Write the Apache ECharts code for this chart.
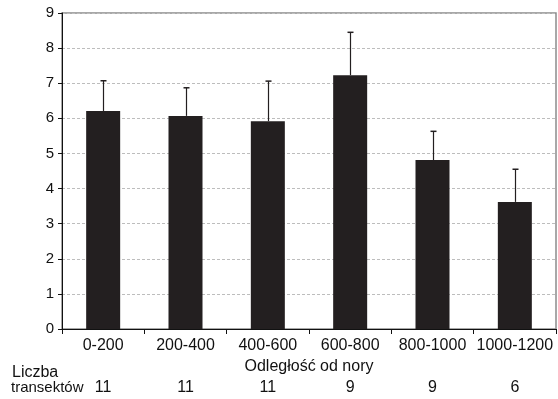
<!DOCTYPE html>
<html><head><meta charset="utf-8">
<script src="https://cdn.jsdelivr.net/npm/echarts@6/dist/echarts.min.js"></script>
<style>html,body{margin:0;padding:0;background:#fff}#c{width:558px;height:399px}</style>
</head><body><div id="c"></div>
<script>
var categories = ['0-200','200-400','400-600','600-800','800-1000','1000-1200'];
var means = [6.21, 6.07, 5.92, 7.23, 4.81, 3.62];
var upperErr = [0.86, 0.80, 1.14, 1.22, 0.82, 0.93];
var transectCounts = ['11','11','11','9','9','6'];
var yTicks = [0,1,2,3,4,5,6,7,8,9];

var chart = echarts.init(document.getElementById('c'));
var F = 'Liberation Sans, Arial, sans-serif';
chart.setOption({
  animation: false,
  grid: {left: 62, right: 2, top: 13, bottom: 70, show: true, borderColor: '#8c8c8c', borderWidth: 1.5, backgroundColor: 'transparent'},
  xAxis: [{
    type: 'category', data: categories, position: 'bottom',
    axisLine: {lineStyle: {color: '#111', width: 1}},
    axisTick: {show: true, length: 5, lineStyle: {color: '#111'}},
    axisLabel: {color: '#111', fontSize: 16, fontFamily: F, margin: 9, interval: 0},
    name: 'Odległość od nory', nameLocation: 'middle', nameGap: 24,
    nameTextStyle: {color: '#111', fontSize: 16, fontFamily: F}
  }, {
    type: 'category', data: transectCounts, position: 'bottom', offset: 42,
    axisLine: {show: false}, axisTick: {show: false},
    axisLabel: {color: '#111', fontSize: 16, fontFamily: F, margin: 9, interval: 0}
  }],
  yAxis: {
    type: 'value', min: yTicks[0], max: yTicks[yTicks.length-1], interval: 1,
    axisLine: {show: true, lineStyle: {color: '#111', width: 1}},
    axisTick: {show: true, length: 4, lineStyle: {color: '#111'}},
    axisLabel: {color: '#111', fontSize: 15, fontFamily: F, margin: 8},
    splitLine: {show: true, lineStyle: {color: '#bdbdbd', type: [3, 2], width: 1}}
  },
  graphic: [
    {type: 'text', left: 12, top: 365, style: {text: 'Liczba', font: '16px ' + F, fill: '#111'}},
    {type: 'text', left: 11, top: 380, style: {text: 'transektów', font: '15px ' + F, fill: '#111'}}
  ],
  series: [{
    type: 'bar', data: means, barWidth: 34,
    itemStyle: {color: '#231f20'}
  }, {
    type: 'custom',
    data: means.map(function (m, i) { return [i, m, m + upperErr[i]]; }),
    renderItem: function (params, api) {
      var p0 = api.coord([api.value(0), api.value(1)]);
      var p1 = api.coord([api.value(0), api.value(2)]);
      var x = Math.round(p0[0]) + 0.5;
      return {type: 'group', children: [
        {type: 'line', shape: {x1: x, y1: p0[1], x2: x, y2: p1[1]}, style: {stroke: '#231f20', lineWidth: 1.2}},
        {type: 'line', shape: {x1: x - 3, y1: p1[1], x2: x + 3, y2: p1[1]}, style: {stroke: '#231f20', lineWidth: 1.5}}
      ]};
    },
    z: 3
  }]
});
</script></body></html>
